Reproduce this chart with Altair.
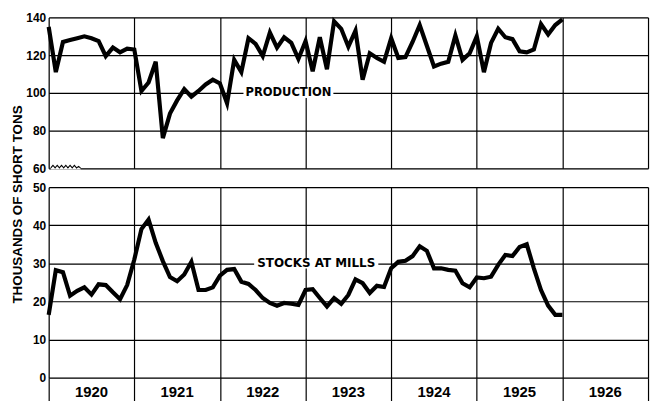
import altair as alt
import pandas as pd

# Monthly values, Jan 1920 .. Jan 1926 (thousands of short tons)
production = [135, 111, 127, 128, 129, 130, 129, 127.5, 119.5, 124, 121.5, 123.5,
              123, 101, 105.5, 116.5, 76, 89, 96, 102, 98, 101, 104.5, 107,
              105, 94.5, 117.5, 111, 129, 126, 119.5, 132, 124, 129.5, 126.5, 118,
              127.5, 111.5, 129.5, 112.5, 138, 134, 124.5, 133, 107, 121, 118.5, 116.5,
              129, 118.5, 119, 127, 136, 125, 114, 115.5, 116.5, 130.5, 117.5, 121,
              130, 111, 126.5, 134, 129.5, 128.5, 122, 121.5, 123, 136.5, 131, 136,
              139]
stocks = [16.5, 28.2, 27.7, 21.5, 22.8, 23.7, 21.8, 24.5, 24.3, 22.4, 20.6, 24.3,
          31, 39, 41.5, 35.4, 30.6, 26.4, 25.3, 27.1, 30.4, 23, 23, 23.7,
          26.8, 28.3, 28.5, 25.2, 24.6, 23, 20.9, 19.6, 18.9, 19.6, 19.4, 19.1,
          23, 23.2, 20.9, 18.7, 20.9, 19.4, 21.7, 25.8, 24.8, 22.2, 24.1, 23.8,
          28.7, 30.4, 30.7, 31.9, 34.5, 33.3, 28.7, 28.7, 28.3, 28.1, 24.8, 23.7,
          26.3, 26.1, 26.5, 29.6, 32.2, 31.9, 34.3, 35, 28.7, 23, 18.9, 16.5,
          16.5]
months = list(range(len(production)))
years = [1920, 1921, 1922, 1923, 1924, 1925, 1926]
year_bounds = [(y - 1920) * 12 for y in years] + [84]
prod_ticks = [60, 80, 100, 120, 140]
stock_ticks = [0, 10, 20, 30, 40, 50]

# axis-break zigzag on the production scale's base (month, value)
break_x = [0.3, 0.6, 0.9, 1.2, 1.5, 1.8, 2.1, 2.4, 2.7, 3.0, 3.3, 3.6, 3.9, 4.2, 4.5]
break_y = [60.2, 61.6, 60.2, 61.6, 60.2, 61.6, 60.2, 61.6, 60.2, 61.6, 60.2, 61.6, 60.2, 61.0, 60.0]

# inline series labels (text, centre month, value, half-width in months, half-height in values)
prod_label = ["PRODUCTION", 33.6, 100, 6.3, 2.7]
stock_label = ["STOCKS AT MILLS", 37.5, 30, 8.7, 1.35]

FONT = "Liberation Sans"
LFONT = "DejaVu Sans"

df_p = pd.DataFrame({"month": months, "value": production})
df_s = pd.DataFrame({"month": months, "value": stocks})
df_years = pd.DataFrame({"year": [str(y) for y in years],
                         "mid": [(y - 1920) * 12 + 6 for y in years]})
df_break = pd.DataFrame({"bx": break_x, "by": break_y})
df_break_cover = pd.DataFrame({"x1": [min(break_x)], "x2": [max(break_x)],
                               "y1": [59.3], "y2": [60.7]})


def lab_df(lab):
    t, c, v, hw, hh = lab
    return pd.DataFrame({"text": [t], "m": [c], "v": [v], "x1": [c - hw], "x2": [c + hw],
                         "y1": [v - hh], "y2": [v + hh]})


xscale = alt.Scale(domain=[0, 84], nice=False, zero=False)


def xaxis(ticks):
    return alt.Axis(values=year_bounds, grid=True, gridColor="black", gridWidth=1.2,
                    gridOpacity=1, labels=False, ticks=ticks, tickSize=24, tickColor="black",
                    tickWidth=1.2, domain=False, title=None)


def yaxis(vals, **kw):
    return alt.Axis(values=vals, grid=True, gridColor="black", gridWidth=1.2, gridOpacity=1,
                    ticks=False, domain=False, labelFont=FONT, labelFontSize=12,
                    labelFontWeight="bold", labelColor="black", labelPadding=3,
                    labelOverlap=False, **kw)


def panel(df, lab, ydomain, yticks, height, extra, yaxis_kw, label_size):
    ysc = alt.Scale(domain=ydomain, nice=False, zero=False)
    xa = xaxis(extra)
    ya = yaxis(yticks, **yaxis_kw)
    line = alt.Chart(df).mark_line(color="black", strokeWidth=4.2, strokeMiterLimit=4).encode(
        x=alt.X("month:Q", scale=xscale, axis=xa),
        y=alt.Y("value:Q", scale=ysc, axis=ya),
    )
    ld = lab_df(lab)
    rect = alt.Chart(ld).mark_rect(color="white").encode(
        x=alt.X("x1:Q", scale=xscale, axis=xa), x2="x2:Q",
        y=alt.Y("y1:Q", scale=ysc, axis=ya), y2="y2:Q")
    text = alt.Chart(ld).mark_text(font=LFONT, fontSize=label_size,
                                   fontWeight="bold", color="black", baseline="middle").encode(
        x=alt.X("m:Q", scale=xscale, axis=xa), y=alt.Y("v:Q", scale=ysc, axis=ya), text="text:N")
    layers = [rect, text, line]
    if extra:
        yl = alt.Chart(df_years).mark_text(font=FONT, fontSize=15, fontWeight="bold",
                                           color="black", baseline="middle").encode(
            x=alt.X("mid:Q", scale=xscale, axis=xa), y=alt.value(height + 14), text="year:N")
        layers.append(yl)
    else:
        cover = alt.Chart(df_break_cover).mark_rect(color="white").encode(
            x=alt.X("x1:Q", scale=xscale, axis=xa), x2="x2:Q",
            y=alt.Y("y1:Q", scale=ysc, axis=ya), y2="y2:Q")
        zig = alt.Chart(df_break).mark_line(color="black", strokeWidth=1.1).encode(
            x=alt.X("bx:Q", scale=xscale, axis=xa), y=alt.Y("by:Q", scale=ysc, axis=ya))
        layers = [cover, zig] + layers
    return alt.layer(*layers).properties(width=604, height=height)


top = panel(df_p, prod_label, [60, 140], prod_ticks, 152, False,
            dict(title="THOUSANDS OF SHORT TONS", titleX=-31, titleY=188, titleAngle=-90,
                 titleAlign="center", titleBaseline="middle", titleFont=FONT,
                 titleFontSize=13.5, titleFontWeight="bold", titleColor="black"), 11.6)
bottom = panel(df_s, stock_label, [0, 50], stock_ticks, 192, True, dict(title=None), 12)

chart = alt.vconcat(top, bottom, spacing=19, bounds="flush").properties(
    padding={"left": 2, "top": 0, "right": 2, "bottom": 0}
).configure_view(stroke="black", strokeWidth=1.6).configure(background="white")

chart.save("out.html", embed_options={"renderer": "svg", "actions": False})
